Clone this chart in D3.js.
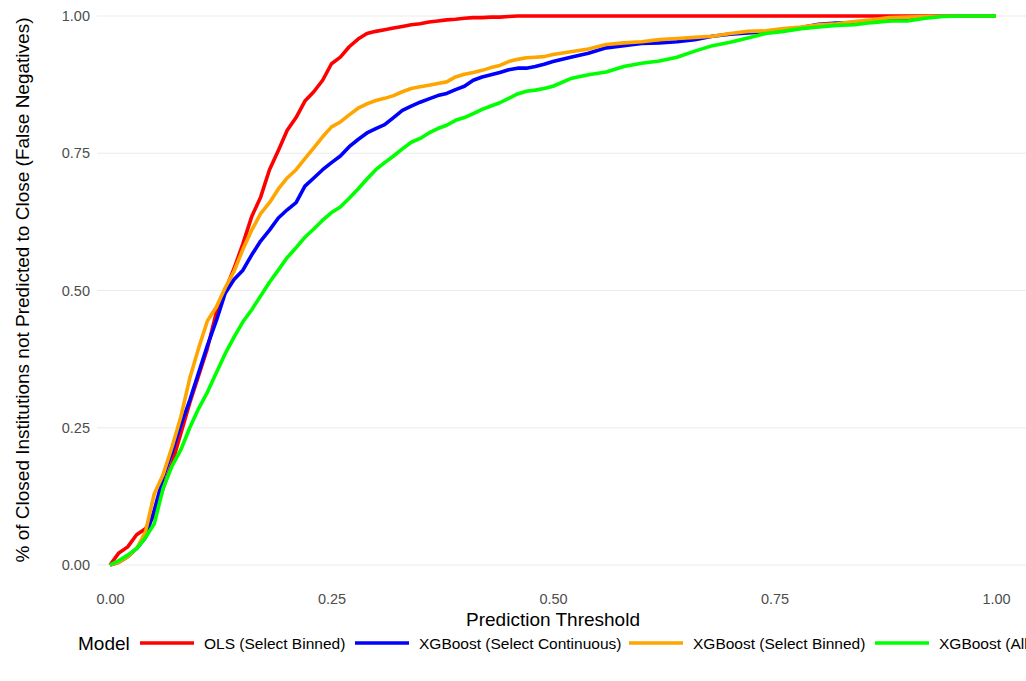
<!DOCTYPE html>
<html><head><meta charset="utf-8">
<script src="https://cdn.jsdelivr.net/npm/d3@7"></script>
<style>
html,body{margin:0;padding:0;background:#fff;}
svg{display:block;font-family:"Liberation Sans",Arial,sans-serif;}
</style></head>
<body>
<svg id="chart" width="1026" height="681"></svg>
<script>
const thresholds = [0,.01,.02,.03,.04,.05,.06,.07,.08,.09,.10,.11,.12,.13,.14,.15,.16,.17,.18,.19,.20,.21,.22,.23,.24,.25,.26,.27,.28,.29,.30,.31,.32,.33,.34,.35,.36,.37,.38,.39,.40,.41,.42,.43,.44,.45,.46,.47,.48,.49,.50,.52,.54,.56,.58,.60,.62,.64,.66,.68,.70,.72,.74,.76,.78,.80,.82,.84,.86,.88,.90,.92,.94,.96,.98,1.00];

const olsSelectBinned = [0,.022,.033,.055,.066,.09,.14,.185,.24,.295,.345,.395,.46,.50,.54,.585,.635,.67,.72,.755,.792,.815,.845,.862,.883,.913,.925,.944,.958,.968,.972,.975,.978,.981,.984,.986,.989,.991,.993,.994,.996,.997,.997,.998,.998,.999,1,1,1,1,1,1,1,1,1,1,1,1,1,1,1,1,1,1,1,1,1,1,1,1,1,1,1,1,1,1];

const xgbSelectContinuous = [0,.005,.015,.03,.05,.10,.16,.205,.255,.30,.35,.40,.445,.495,.52,.537,.565,.59,.61,.632,.647,.66,.69,.705,.72,.733,.745,.762,.775,.787,.795,.802,.815,.828,.836,.843,.849,.855,.859,.866,.872,.883,.889,.893,.897,.902,.905,.905,.908,.912,.917,.925,.932,.942,.946,.95,.951,.953,.957,.963,.967,.969,.971,.975,.979,.985,.987,.988,.989,.992,.996,.998,1,1,1,1];

const xgbSelectBinned = [0,.005,.015,.03,.06,.13,.165,.215,.27,.34,.395,.445,.47,.505,.535,.575,.61,.64,.66,.685,.705,.72,.74,.76,.78,.798,.807,.82,.832,.84,.846,.85,.855,.862,.868,.871,.874,.877,.88,.889,.894,.897,.901,.906,.91,.917,.921,.924,.925,.926,.93,.935,.94,.948,.951,.953,.957,.959,.961,.963,.968,.972,.973,.977,.98,.984,.986,.99,.993,.997,.998,.999,1,1,1,1];

const xgbAll = [0,.008,.018,.03,.05,.075,.14,.18,.21,.25,.285,.315,.35,.385,.415,.443,.465,.49,.515,.537,.56,.578,.597,.612,.628,.642,.652,.668,.685,.703,.72,.733,.745,.758,.77,.777,.787,.795,.801,.81,.815,.822,.83,.836,.842,.85,.858,.863,.865,.868,.872,.886,.893,.898,.908,.914,.918,.925,.936,.946,.952,.96,.968,.972,.977,.98,.983,.984,.988,.991,.991,.996,.999,1,1,1];

const seriesNames = ["OLS (Select Binned)","XGBoost (Select Continuous)","XGBoost (Select Binned)","XGBoost (All)"];
const seriesColors = ["#ff0000","#0000ff","#ffa500","#00ff00"];
const seriesValues = [olsSelectBinned, xgbSelectContinuous, xgbSelectBinned, xgbAll];
const tickValues = [0,0.25,0.5,0.75,1];
const tickLabels = ["0.00","0.25","0.50","0.75","1.00"];

const svg = d3.select("#chart");
const x = d3.scaleLinear().domain([0,1]).range([110,996]);
const y = d3.scaleLinear().domain([0,1]).range([565,16]);

// gridlines
svg.append("g").selectAll("line").data(tickValues).join("line")
  .attr("x1",97).attr("x2",1026)
  .attr("y1",d=>y(d)).attr("y2",d=>y(d))
  .attr("stroke","#ebebeb").attr("stroke-width",1);

// y axis labels
const yAxis = d3.axisLeft(y).tickValues(tickValues).tickFormat((d,i)=>tickLabels[i]).tickSize(0).tickPadding(0);
const gy = svg.append("g").attr("transform","translate(90,0)").call(yAxis);
gy.select(".domain").remove();
gy.selectAll("text").attr("fill","#4d4d4d").style("font-size","14.5px").style("font-family","'Liberation Sans',Arial,sans-serif");

// x axis labels
const xAxis = d3.axisBottom(x).tickValues(tickValues).tickFormat((d,i)=>tickLabels[i]).tickSize(0).tickPadding(0);
const gx = svg.append("g").attr("transform","translate(0,594)").call(xAxis);
gx.select(".domain").remove();
gx.selectAll("text").attr("fill","#4d4d4d").style("font-size","14.5px").style("font-family","'Liberation Sans',Arial,sans-serif");

// titles
svg.append("text").attr("x",553).attr("y",626).attr("text-anchor","middle")
  .style("font-size","19px").attr("fill","#000").text("Prediction Threshold");
svg.append("text").attr("transform","translate(29,290) rotate(-90)").attr("text-anchor","middle")
  .style("font-size","19px").attr("fill","#000").text("% of Closed Institutions not Predicted to Close (False Negatives)");

// lines
const line = d3.line().x((d,i)=>x(thresholds[i])).y(d=>y(d));
svg.append("g").selectAll("path").data(seriesValues).join("path")
  .attr("d",d=>line(d)).attr("fill","none")
  .attr("stroke",(d,i)=>seriesColors[i]).attr("stroke-width",3.6)
  .attr("stroke-linejoin","round");

// legend
const legY = 643;
svg.append("text").attr("x",78).attr("y",legY+7).style("font-size","19px").attr("fill","#000").text("Model");
const keyX = [140,355,629,875];
const lg = svg.append("g").selectAll("g").data(seriesNames).join("g");
lg.append("line").attr("x1",(d,i)=>keyX[i]).attr("x2",(d,i)=>keyX[i]+54)
  .attr("y1",legY).attr("y2",legY).attr("stroke",(d,i)=>seriesColors[i]).attr("stroke-width",3.6);
lg.append("text").attr("x",(d,i)=>keyX[i]+64).attr("y",legY+5.5)
  .style("font-size","15.5px").attr("fill","#000").text(d=>d);
</script>
</body></html>
